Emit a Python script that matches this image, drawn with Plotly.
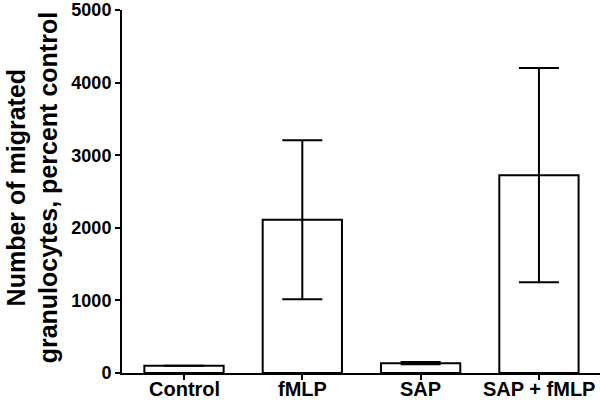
import plotly.graph_objects as go

categories = ["Control", "fMLP", "SAP", "SAP + fMLP"]
means = [100, 2110, 135, 2725]
errors = [0, 1095, 15, 1475]
y_ticks = [0, 1000, 2000, 3000, 4000, 5000]
y_title = "Number of migrated<br>granulocytes, percent control"

x_pos = list(range(len(categories)))

fig = go.Figure()
fig.add_trace(go.Bar(
    x=x_pos,
    y=means,
    width=0.67,
    marker=dict(color="white", line=dict(color="black", width=2)),
    error_y=dict(type="data", array=errors, visible=True,
                 color="black", thickness=2, width=20),
))

annotations = [dict(
    text=y_title, textangle=-90,
    xref="paper", yref="paper", x=0, y=0.51,
    xanchor="right", yanchor="middle", xshift=-58,
    showarrow=False, align="center", borderpad=0,
    font=dict(size=25, weight="bold", color="black"),
)]
# category labels placed under the x axis ticks
for xi, cat in zip(x_pos, categories):
    annotations.append(dict(
        text=cat, xref="x", yref="paper", x=xi, y=0,
        xanchor="center", yanchor="top", yshift=-4, borderpad=0,
        showarrow=False,
        font=dict(size=20, weight="bold", color="black"),
    ))

fig.update_layout(
    width=600, height=400,
    margin=dict(l=122, r=0, t=10, b=27, autoexpand=False),
    plot_bgcolor="white", paper_bgcolor="white",
    showlegend=False,
    font=dict(family="Liberation Sans, Arial, sans-serif", color="black"),
    xaxis=dict(
        range=[-0.524, 3.516], automargin=False,
        tickmode="array", tickvals=x_pos, showticklabels=False,
        showline=True, linecolor="black", linewidth=2,
        ticks="outside", ticklen=5, tickwidth=2, tickcolor="black",
        showgrid=False, zeroline=False,
    ),
    yaxis=dict(
        range=[0, 5000], automargin=False,
        tickmode="array", tickvals=y_ticks, ticktext=[str(v) for v in y_ticks],
        showline=True, linecolor="black", linewidth=2,
        ticks="outside", ticklen=5, tickwidth=2, tickcolor="black",
        tickfont=dict(size=18, weight="bold"),
        showgrid=False, zeroline=False,
    ),
    annotations=annotations,
)

fig.write_html("out.html", config={"displayModeBar": False},
               post_script="document.body.style.margin='0';document.body.style.overflow='hidden';")
